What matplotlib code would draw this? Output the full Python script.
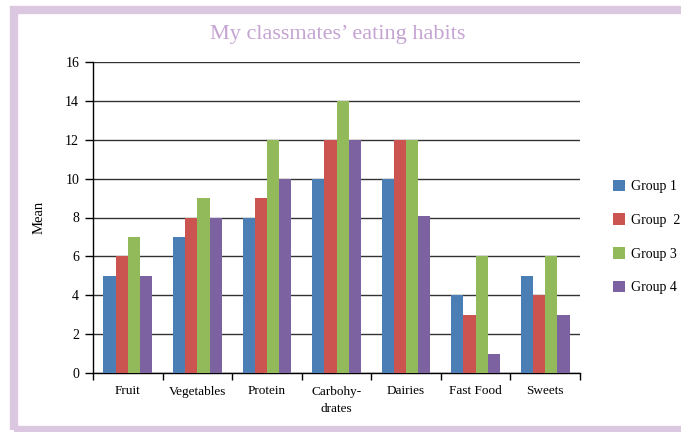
import numpy as np
import matplotlib.pyplot as plt
from matplotlib.patches import Rectangle

categories = ['Fruit', 'Vegetables', 'Protein', 'Carbohy-\ndrates', 'Dairies', 'Fast Food', 'Sweets']
group1 = [5, 7, 8, 10, 10, 4, 5]
group2 = [6, 8, 9, 12, 12, 3, 4]
group3 = [7, 9, 12, 14, 12, 6, 6]
group4 = [5, 8, 10, 12, 8.1, 1, 3]
labels = ['Group 1', 'Group  2', 'Group 3', 'Group 4']
colors = ['#4a7eb5', '#cb5450', '#92b95a', '#7c62a0']

plt.rcParams['font.family'] = ['Liberation Serif', 'DejaVu Serif']

fig = plt.figure(figsize=(6.81, 4.32), dpi=100)
ax = fig.add_axes([93/681, 1 - 373/432, 487/681, 311/432])

x = np.arange(len(categories))
w = 0.175
for i, vals in enumerate([group1, group2, group3, group4]):
    ax.bar(x + (i - 1.5) * w, vals, w, color=colors[i], label=labels[i], zorder=3)

ax.set_xlim(-0.5, len(categories) - 0.5)
ax.set_ylim(0, 16)
ax.set_yticks(range(0, 17, 2))
ax.yaxis.grid(True, color='#333333', linewidth=1, zorder=0)
ax.set_xticks(x)
ax.set_xticklabels(categories, fontsize=9.5, linespacing=1.6)
ax.set_xticks(np.arange(-0.5, len(categories)), minor=True)
ax.tick_params(axis='x', which='major', length=0, pad=9)
ax.tick_params(axis='x', which='minor', length=5, width=1, color='black')
ax.tick_params(axis='y', length=6, width=1, labelsize=10, pad=4)
for s in ['top', 'right']:
    ax.spines[s].set_visible(False)
ax.spines['left'].set_linewidth(1)
ax.spines['bottom'].set_linewidth(1)
ax.set_ylabel('Mean', fontsize=10.5, labelpad=14)

fig.text(338/681, 1 - 35/432, 'My classmates\u2019 eating habits', ha='center', va='center',
         fontsize=16, color='#c5a3d3')

fig.legend(loc='center left', bbox_to_anchor=(600/681, 1 - 237/432), frameon=False,
           fontsize=10, handlelength=0.9, handleheight=0.9, labelspacing=1.45, handletextpad=0.4)

fig.patches.append(Rectangle((14/681, 2/432), 700/681, 420/432,
                             transform=fig.transFigure, fill=False,
                             edgecolor='#dcc7e1', linewidth=6))
fig.savefig('out.png', dpi=100)
